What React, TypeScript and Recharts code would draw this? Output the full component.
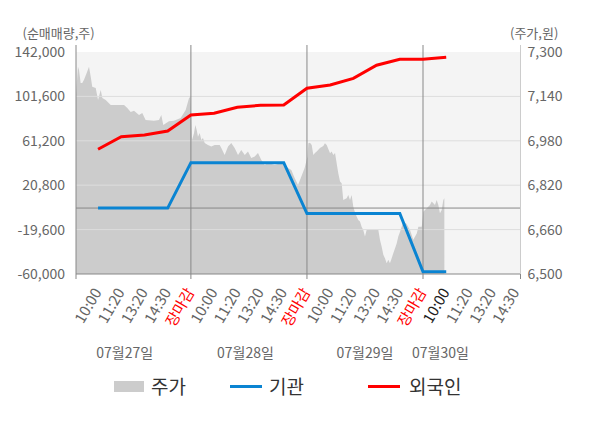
import React from 'react';
import {
  ComposedChart,
  Area,
  Line,
  XAxis,
  YAxis,
  ReferenceLine,
  ReferenceArea,
  Legend,
} from 'recharts';

const FONT = '"Noto Sans CJK KR", "Noto Sans", sans-serif';

// time slots: each trading day spans 100 slots (day d: d*100 .. d*100+100)
const priceSlots = [
  1, 2.7, 3.6, 5, 6.4, 7.9, 10.2, 12.2, 13.7, 15, 18, 20, 22.3, 23.7, 26.6, 30.9, 42.4, 45.2, 48.1, 51,
  55.3, 58.1, 61, 68.2, 72.5, 74.5, 76.2, 81.1, 85.4, 91.2, 95.5, 98.4, 99.6,
  101, 102.7, 103.8, 105, 106.1, 107.6, 109, 110.4, 111.9, 114.7, 117.6, 120.5, 124.8, 126.2, 129.1, 132,
  134.8, 137.7, 140.6, 143.4, 146.4, 149.2, 152, 155, 157.8, 160.7, 163.6, 166.4, 172.2, 177.9, 180.8,
  183.7, 186.5, 189.4, 192.3, 195.1, 198, 199.4,
  200.5, 201.2, 202.6, 204.1, 205.5, 206.9, 208.4, 211.2, 214.1, 215.5, 217, 219.9, 221.3, 222.7, 224.2,
  225.6, 227, 228.5, 229.9, 231.3, 234.2, 235.6, 237.1, 238.5, 239.9, 241.4, 242.8, 244.2, 245.7, 247.1,
  248.5, 250, 251.4, 261.5, 262.9, 264.4, 265.8, 267.2, 268.7, 270.1, 271.5, 273, 274.4, 275.9, 277.3,
  278.7, 280.2, 281.6, 283, 285.9, 288.8, 291.6, 294.6, 296, 298.9,
  300.3, 301.7, 303.2, 306, 307.5, 308.9, 310.3, 311.8, 313.2, 314.6, 316.1, 317.5, 318.4,
];
const priceValues = [
  7145, 7247, 7235, 7188, 7188, 7200, 7224, 7247, 7211, 7175, 7170, 7127, 7163, 7134, 7127, 7109, 7109, 7098, 7084, 7088,
  7073, 7080, 7055, 7052, 7055, 7073, 7037, 7050, 7052, 7062, 7091, 7134, 7139,
  6983, 7008, 7037, 7019, 6995, 7008, 6983, 6990, 6972, 6965, 6959, 6965, 6965, 6954, 6929, 6959,
  6972, 6954, 6929, 6947, 6929, 6941, 6918, 6923, 6936, 6911, 6893, 6900, 6893, 6900, 6893,
  6882, 6875, 6846, 6821, 6850, 6882, 6905,
  6923, 6971, 6973, 6965, 6929, 6936, 6941, 6954, 6961, 6971, 6965, 6935, 6941, 6929, 6936,
  6899, 6863, 6833, 6827, 6767, 6773, 6785, 6767, 6785, 6743, 6722, 6707, 6695, 6689, 6670,
  6659, 6635, 6659, 6659, 6623, 6598, 6569, 6557, 6539, 6551, 6539, 6557, 6575, 6593, 6610,
  6635, 6652, 6670, 6689, 6680, 6659, 6623, 6646, 6670, 6670,
  6724, 6731, 6737, 6749, 6761, 6755, 6749, 6767, 6749, 6719, 6731, 6767, 6773,
];

const flowSlots = [20, 40, 60, 80, 100, 120, 140, 160, 180, 200, 220, 240, 260, 280, 300, 320];
const foreignNet = [
  53500, 64900, 66500, 70100, 84700, 86200, 91700, 93500, 93800, 109000, 112000, 118000, 130000, 135400,
  135400, 137200,
];
const institutionNet = [
  0, 0, 0, 0, 41300, 41300, 41300, 41300, 41300, -5000, -5000, -5000, -5000, -5000, -57900, -57900,
];

const tickSlots = [1, 20, 40, 60, 80, 100, 120, 140, 160, 180, 200, 220, 240, 260, 280, 300, 320, 340, 360, 380, 384];
const tickLabels = [
  '', '10:00', '11:20', '13:20', '14:30', '장마감', '10:00', '11:20', '13:20', '14:30', '장마감',
  '10:00', '11:20', '13:20', '14:30', '장마감', '10:00', '11:20', '13:20', '14:30', '',
];
const boundarySlots = [1, 100, 200, 300, 384];
const currentSlot = 320;
const dayBoundaries = [100, 200, 300];
const dateTickSlots = [43, 147, 250, 315];
const dateLabels = ['07월27일', '07월28일', '07월29일', '07월30일'];

const leftTicks = [-60000, -19600, 20800, 61200, 101600, 142000];
const rightTicks = [6500, 6660, 6820, 6980, 7140, 7300];
const gridValues = [-19600, 20800, 61200, 101600];

type Row = { x: number; price?: number; inst?: number; foreign?: number };
const rowMap = new Map<number, Row>();
priceSlots.forEach((s, i) => {
  const r = rowMap.get(s) || { x: s };
  r.price = priceValues[i];
  rowMap.set(s, r);
});
flowSlots.forEach((s, i) => {
  const r = rowMap.get(s) || { x: s };
  r.foreign = foreignNet[i];
  r.inst = institutionNet[i];
  rowMap.set(s, r);
});
const chartData = Array.from(rowMap.values()).sort((a, b) => a.x - b.x);

const fmt = (v: number) => v.toLocaleString('en-US');

const MainTick = (props: any) => {
  const { x, y, payload } = props;
  const v = payload.value;
  const idx = tickSlots.indexOf(v);
  const label = idx >= 0 ? tickLabels[idx] : '';
  const isBoundary = boundarySlots.includes(v);
  const color = label === '장마감' ? '#ff0000' : v === currentSlot ? '#222222' : '#666666';
  const ax = x + 4;
  const ay = y + 18;
  return (
    <g>
      {isBoundary && <line x1={x} x2={x} y1={y} y2={y + 5} stroke="#888888" strokeWidth={1} />}
      {label && (
        <text
          x={ax}
          y={ay}
          transform={`rotate(-60 ${ax} ${ay})`}
          textAnchor="end"
          fontSize={15}
          fill={color}
          fontFamily={FONT}
        >
          {label}
        </text>
      )}
    </g>
  );
};

const DateTick = (props: any) => {
  const { x, y, payload } = props;
  const idx = dateTickSlots.indexOf(payload.value);
  return (
    <text x={x} y={y + 22} textAnchor="middle" fontSize={14} fill="#666666" fontFamily={FONT}>
      {idx >= 0 ? dateLabels[idx] : ''}
    </text>
  );
};

const LeftTitle = (props: any) => {
  const vb = props.viewBox || { x: 0, y: 37 };
  return (
    <text x={vb.x + 14.5} y={vb.y - 7} fontSize={13} fill="#666666" fontFamily={FONT}>
      (순매매량,주)
    </text>
  );
};

const RightTitle = (props: any) => {
  const vb = props.viewBox || { x: 512.5, y: 37 };
  return (
    <text x={vb.x - 10.5} y={vb.y - 7} fontSize={13} fill="#666666" fontFamily={FONT}>
      (주가,원)
    </text>
  );
};

const legendItems = [
  { name: '주가', kind: 'rect', color: '#cccccc', left: 106, textLeft: 143 },
  { name: '기관', kind: 'line', color: '#0a84d2', left: 222, textLeft: 261 },
  { name: '외국인', kind: 'line', color: '#ff0000', left: 360, textLeft: 401 },
];

const renderLegend = () => (
  <div style={{ position: 'relative', width: 584, height: 30, fontFamily: FONT }}>
    {legendItems.map((it) => (
      <React.Fragment key={it.name}>
        {it.kind === 'rect' ? (
          <div
            style={{ position: 'absolute', left: it.left, top: 10, width: 30, height: 11, background: it.color }}
          />
        ) : (
          <div
            style={{ position: 'absolute', left: it.left, top: 14, width: 32, height: 3, background: it.color }}
          />
        )}
        <div
          style={{
            position: 'absolute',
            left: it.textLeft,
            top: 0,
            height: 30,
            lineHeight: '30px',
            fontSize: 19,
            color: '#333333',
            whiteSpace: 'nowrap',
          }}
        >
          {it.name}
        </div>
      </React.Fragment>
    ))}
  </div>
);

export default function App() {
  return (
    <div style={{ width: 584, height: 412, fontFamily: FONT }}>
      <ComposedChart
        width={584}
        height={412}
        data={chartData}
        margin={{ top: 37, right: 0, bottom: 19.5, left: 0 }}
      >
        <XAxis
          dataKey="x"
          type="number"
          domain={[1, 384]}
          ticks={tickSlots}
          interval={0}
          tick={<MainTick />}
          tickLine={false}
          tickSize={0}
          tickMargin={0}
          axisLine={{ stroke: '#888888' }}
          height={62}
          allowDataOverflow
        />
        <XAxis
          xAxisId="date"
          dataKey="x"
          type="number"
          domain={[1, 384]}
          ticks={dateTickSlots}
          interval={0}
          tick={<DateTick />}
          tickLine={false}
          tickSize={0}
          tickMargin={0}
          axisLine={false}
          height={34.5}
          allowDataOverflow
        />
        <YAxis
          yAxisId="left"
          type="number"
          domain={[-60000, 148369]}
          ticks={leftTicks}
          interval={0}
          tickFormatter={fmt}
          tick={{ fill: '#666666', fontSize: 14, fontFamily: FONT }}
          tickLine={false}
          tickSize={0}
          tickMargin={11}
          axisLine={{ stroke: '#888888' }}
          width={68}
          allowDataOverflow
          label={{ content: <LeftTitle /> }}
        />
        <YAxis
          yAxisId="right"
          orientation="right"
          type="number"
          domain={[6500, 7325.2]}
          ticks={rightTicks}
          interval={0}
          tickFormatter={fmt}
          tick={{ fill: '#666666', fontSize: 14, fontFamily: FONT }}
          tickLine={false}
          tickSize={0}
          tickMargin={7}
          axisLine={{ stroke: '#cccccc' }}
          width={71.5}
          allowDataOverflow
          label={{ content: <RightTitle /> }}
        />
        <ReferenceArea
          yAxisId="left"
          y1={-60000}
          y2={142000}
          fill="#f4f4f4"
          fillOpacity={1}
          stroke="none"
          ifOverflow="visible"
        />
        <Area
          yAxisId="right"
          dataKey="price"
          type="linear"
          fill="#cccccc"
          fillOpacity={1}
          stroke="none"
          connectNulls
          isAnimationActive={false}
          baseValue={6500}
          name="주가"
        />
        {gridValues.map((g) => (
          <ReferenceLine key={g} yAxisId="left" y={g} stroke="#dddddd" strokeWidth={1} />
        ))}
        <ReferenceLine yAxisId="left" y={0} stroke="#888888" strokeWidth={1} />
        {dayBoundaries.map((d) => (
          <ReferenceLine key={d} yAxisId="left" x={d} stroke="#888888" strokeWidth={1} />
        ))}
        <Line
          yAxisId="left"
          dataKey="inst"
          type="linear"
          stroke="#0a84d2"
          strokeWidth={3}
          dot={false}
          connectNulls
          isAnimationActive={false}
          name="기관"
        />
        <Line
          yAxisId="left"
          dataKey="foreign"
          type="linear"
          stroke="#ff0000"
          strokeWidth={3}
          dot={false}
          connectNulls
          isAnimationActive={false}
          name="외국인"
        />
        <Legend verticalAlign="bottom" height={30} content={renderLegend} />
      </ComposedChart>
    </div>
  );
}
